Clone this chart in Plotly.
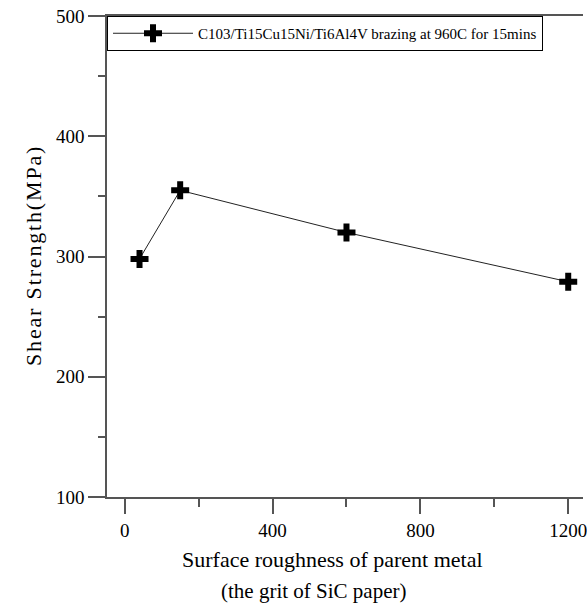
import plotly.graph_objects as go

grit = [40, 150, 600, 1200]
shear = [298, 355, 320, 279]
series_name = "C103/Ti15Cu15Ni/Ti6Al4V brazing at 960C for 15mins"
x_ticks = [0, 400, 800, 1200]
y_ticks = [100, 200, 300, 400, 500]
y_title = "Shear Strength(MPa)"

FONT = "Liberation Serif"
AXC = "#555555"

fig = go.Figure()
fig.add_trace(go.Scatter(
    x=grit, y=shear, mode="lines+markers", name=series_name,
    line=dict(color="#222222", width=1),
    marker=dict(symbol="cross", size=15, color="black"),
))

fig.update_layout(
    width=587, height=605,
    margin=dict(l=107, r=0, t=16, b=108),
    plot_bgcolor="white", paper_bgcolor="white",
    font=dict(family=FONT, color="black", size=19),
    showlegend=True,
    legend=dict(x=0, y=1, xanchor="left", yanchor="top",
                bordercolor="black", borderwidth=1, bgcolor="white",
                font=dict(family=FONT, size=15, color="black"),
                itemwidth=80, tracegroupgap=0),
    xaxis=dict(range=[-48, 1240], tickvals=x_ticks, showline=True, linecolor=AXC,
               linewidth=1.5, mirror=True, ticks="outside", ticklen=15, tickwidth=1.5,
               tickcolor=AXC, showgrid=False, zeroline=False, ticklabeloverflow="allow",
               minor=dict(dtick=200, ticks="outside", ticklen=8, tickwidth=1.5, tickcolor=AXC, tick0=0),
               tickfont=dict(family=FONT, size=19)),
    yaxis=dict(range=[100, 500], tickvals=y_ticks, showline=True, linecolor=AXC,
               linewidth=1.5, mirror=False, ticks="outside", ticklen=17, tickwidth=1.5,
               tickcolor=AXC, showgrid=False, zeroline=False,
               minor=dict(dtick=50, ticks="outside", ticklen=7, tickwidth=1.5, tickcolor=AXC, tick0=0),
               tickfont=dict(family=FONT, size=19)),
)

fig.add_annotation(text="Surface roughness of parent metal", xref="paper", yref="paper",
                   x=0.473, y=0, yanchor="middle", yshift=-62, showarrow=False,
                   font=dict(family=FONT, size=22))
fig.add_annotation(text="(the grit of SiC paper)", xref="paper", yref="paper",
                   x=0.433, y=0, yanchor="middle", yshift=-94, showarrow=False,
                   borderpad=0, font=dict(family=FONT, size=21))
fig.add_annotation(text="\u200a".join(y_title), xref="paper", yref="paper",
                   x=0, xshift=-88, y=0.5, textangle=-90, showarrow=False,
                   font=dict(family=FONT, size=22))

fig.write_html("out.html")
